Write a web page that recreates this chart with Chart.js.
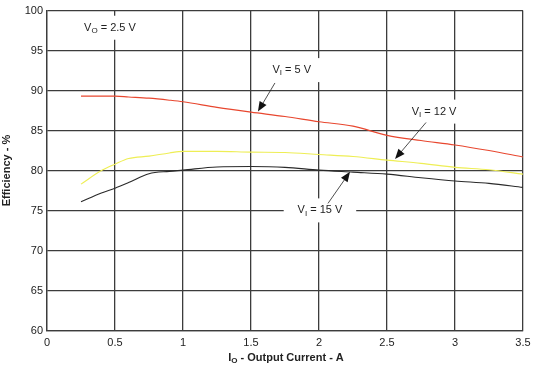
<!DOCTYPE html>
<html lang="en">
<head>
    <meta charset="UTF-8">
    <title>Efficiency vs Output Current</title>
    <script src="https://cdn.jsdelivr.net/npm/chart.js"></script>
    <style>
        body { margin: 0; background: #fff; }
        canvas { display: block; }
    </style>
</head>
<body>
    <canvas id="effChart" width="537" height="374"></canvas>

    <script>
        // output current, A
        const currents = [0.25, 0.4, 0.5, 0.6, 0.75, 0.9, 1.0, 1.25, 1.5, 1.75, 2.0, 2.25, 2.5, 2.75, 3.0, 3.25, 3.5];
        // efficiency, %
        const eff5V  = [89.3, 89.3, 89.3, 89.2, 89.05, 88.8, 88.6, 87.9, 87.3, 86.75, 86.1, 85.55, 84.4, 83.75, 83.2, 82.5, 81.7];
        const eff12V = [78.3, 80.0, 80.8, 81.5, 81.8, 82.2, 82.4, 82.4, 82.3, 82.25, 82.0, 81.75, 81.3, 80.9, 80.4, 80.1, 79.55];
        const eff15V = [76.1, 77.2, 77.8, 78.5, 79.6, 79.9, 80.05, 80.45, 80.5, 80.4, 80.05, 79.8, 79.55, 79.1, 78.7, 78.4, 77.9];

        const xTicks = [0, 0.5, 1, 1.5, 2, 2.5, 3, 3.5];
        const yTicks = [60, 65, 70, 75, 80, 85, 90, 95, 100];

        const FONT = "Liberation Sans, Arial, Helvetica, sans-serif";

        function toPoints(ys) {
            return currents.map((x, i) => ({ x: x, y: ys[i] }));
        }

        // text anchor and arrow [fromX, fromY, toX, toY] in data units
        const labels = [
            { main: "V", sub: "O", rest: " = 2.5 V", x: 0.463, y: 97.86, padX: 10, arrow: null },
            { main: "V", sub: "I", rest: " = 5 V", x: 1.80, y: 92.56, padX: 10, arrow: [1.676, 90.95, 1.551, 87.37] },
            { main: "V", sub: "I", rest: " = 12 V", x: 2.846, y: 87.37, padX: 8, arrow: [2.787, 86.01, 2.559, 81.44] },
            { main: "V", sub: "I", rest: " = 15 V", x: 2.007, y: 75.02, padX: 12, arrow: [2.066, 75.89, 2.228, 79.84] }
        ];

        function subText(ctx, main, sub, rest, cx, cy, size, bold) {
            const w = bold ? "bold " : "";
            ctx.font = w + size + "px " + FONT;
            const w1 = ctx.measureText(main).width;
            const w3 = ctx.measureText(rest).width;
            ctx.font = w + Math.round(size * 0.75) + "px " + FONT;
            const w2 = ctx.measureText(sub).width;
            const total = w1 + w2 + w3;
            let x = cx - total / 2;
            ctx.textAlign = "left";
            ctx.textBaseline = "middle";
            ctx.fillStyle = "#222";
            ctx.font = w + size + "px " + FONT;
            ctx.fillText(main, x, cy);
            x += w1;
            ctx.font = w + Math.round(size * 0.75) + "px " + FONT;
            ctx.fillText(sub, x, cy + 3);
            x += w2;
            ctx.font = w + size + "px " + FONT;
            ctx.fillText(rest, x, cy);
            return total;
        }

        function arrow(ctx, x1, y1, x2, y2) {
            const ang = Math.atan2(y2 - y1, x2 - x1);
            const len = 10, half = 4;
            ctx.strokeStyle = "#222";
            ctx.lineWidth = 0.8;
            ctx.beginPath();
            ctx.moveTo(x1, y1);
            ctx.lineTo(x2 - Math.cos(ang) * len * 0.8, y2 - Math.sin(ang) * len * 0.8);
            ctx.stroke();
            ctx.fillStyle = "#111";
            ctx.beginPath();
            ctx.moveTo(x2, y2);
            ctx.lineTo(x2 - Math.cos(ang) * len - Math.sin(ang) * half, y2 - Math.sin(ang) * len + Math.cos(ang) * half);
            ctx.lineTo(x2 - Math.cos(ang) * len + Math.sin(ang) * half, y2 - Math.sin(ang) * len - Math.cos(ang) * half);
            ctx.closePath();
            ctx.fill();
        }

        const decorPlugin = {
            id: "decor",
            afterDraw(chart) {
                const ctx = chart.ctx;
                const xs = chart.scales.x, ys = chart.scales.y;
                ctx.save();

                labels.forEach(l => {
                    const cx = xs.getPixelForValue(l.x);
                    const cy = ys.getPixelForValue(l.y);
                    ctx.font = "11px " + FONT;
                    const tw = ctx.measureText(l.main + l.rest).width + 6;
                    ctx.fillStyle = "#fff";
                    ctx.fillRect(cx - tw / 2 - l.padX, cy - 12, tw + 2 * l.padX, 24);
                    subText(ctx, l.main, l.sub, l.rest, cx, cy, 11, false);
                    if (l.arrow) {
                        const a = l.arrow;
                        arrow(ctx, xs.getPixelForValue(a[0]), ys.getPixelForValue(a[1]),
                                   xs.getPixelForValue(a[2]), ys.getPixelForValue(a[3]));
                    }
                });

                // axis titles
                const area = chart.chartArea;
                subText(ctx, "I", "O", " - Output Current - A", (area.left + area.right) / 2 + 1, 358, 11, true);

                ctx.translate(7, (area.top + area.bottom) / 2);
                ctx.rotate(-Math.PI / 2);
                ctx.font = "bold 11px " + FONT;
                ctx.textAlign = "center";
                ctx.textBaseline = "middle";
                ctx.fillStyle = "#222";
                ctx.fillText("Efficiency - %", 0, 0);
                ctx.restore();
            }
        };

        const gridStyle = {
            color: "#3c3c3c",
            lineWidth: 1.3,
            drawTicks: false
        };

        new Chart(document.getElementById("effChart"), {
            type: "line",
            data: {
                datasets: [
                    { label: "VI = 5 V", data: toPoints(eff5V), borderColor: "#e8472f", borderWidth: 1.1 },
                    { label: "VI = 12 V", data: toPoints(eff12V), borderColor: "#eeee55", borderWidth: 1.1 },
                    { label: "VI = 15 V", data: toPoints(eff15V), borderColor: "#2a2a2a", borderWidth: 1.1 }
                ]
            },
            options: {
                responsive: false,
                animation: false,
                layout: { padding: { left: 0, top: 7, right: 14, bottom: 0 } },
                elements: {
                    point: { radius: 0 },
                    line: { tension: 0.3, cubicInterpolationMode: "monotone" }
                },
                plugins: {
                    legend: { display: false },
                    tooltip: { enabled: false }
                },
                scales: {
                    x: {
                        type: "linear",
                        min: 0,
                        max: 3.5,
                        afterFit(scale) { scale.height = 43.5; },
                        afterBuildTicks(scale) { scale.ticks = xTicks.map(v => ({ value: v })); },
                        grid: gridStyle,
                        border: { color: "#3c3c3c", width: 1.3 },
                        ticks: {
                            padding: 6,
                            color: "#222",
                            font: { family: FONT, size: 11 },
                            maxRotation: 0,
                            callback: v => String(v)
                        }
                    },
                    y: {
                        min: 60,
                        max: 100,
                        afterFit(scale) { scale.width = 47; },
                        afterBuildTicks(scale) { scale.ticks = yTicks.map(v => ({ value: v })); },
                        grid: gridStyle,
                        border: { color: "#3c3c3c", width: 1.3 },
                        ticks: {
                            padding: 4,
                            color: "#222",
                            font: { family: FONT, size: 11 },
                            callback: v => String(v)
                        }
                    }
                }
            },
            plugins: [decorPlugin]
        });
    </script>
</body>
</html>
